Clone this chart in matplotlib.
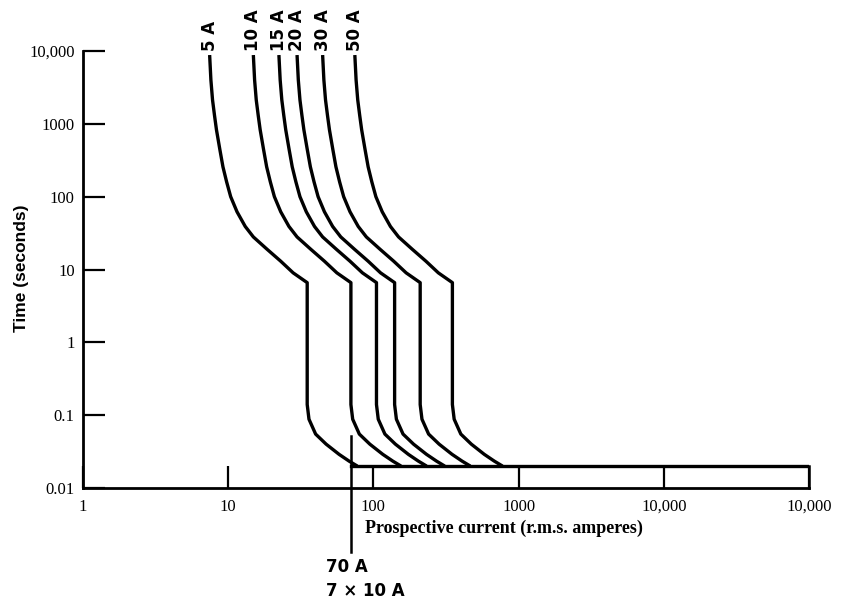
import numpy as np
import matplotlib.pyplot as plt

# fuse ratings (A)
ratings = [5, 10, 15, 20, 30, 50]
labels = ["5 A", "10 A", "15 A", "20 A", "30 A", "50 A"]

# characteristic, as multiples of the rating
t_upper = [8800, 4000, 2130, 1300, 830, 450, 257, 160, 100, 62, 39, 28, 19, 13, 9.0, 6.6]
m_upper = [1.49, 1.52, 1.56, 1.61, 1.66, 1.75, 1.84, 1.95, 2.08, 2.30, 2.62, 2.98, 3.7, 4.6, 5.6, 7.0]
t_lower = [0.14, 0.088, 0.055, 0.040, 0.029, 0.0234, 0.02]
m_lower = [7.0, 7.2, 8.0, 9.45, 11.6, 13.6, 15.5]

min_time = 0.02
min_line_start = 70
x_max = 100000
marker_current = 70

xticks = [1, 10, 100, 1000, 10000, 100000]
xtick_labels = ["1", "10", "100", "1000", "10,000", "10,000"]
yticks = [0.01, 0.1, 1, 10, 100, 1000, 10000]
ytick_labels = ["0.01", "0.1", "1", "10", "100", "1000", "10,000"]

W, H = 843, 601
fig = plt.figure(figsize=(W / 100, H / 100), dpi=100)
ax = fig.add_axes([83 / W, 1 - 488 / H, (809 - 83) / W, (488 - 51) / H])
ax.set_xscale("log")
ax.set_yscale("log")
ax.set_xlim(1, x_max)
ax.set_ylim(0.01, 10000)

lw = 2.4
for r, lab in zip(ratings, labels):
    t = t_upper + t_lower
    m = m_upper + m_lower
    cur = [r * k for k in m]
    ax.plot(cur, t, color="black", lw=lw, solid_capstyle="butt", solid_joinstyle="round")
    ax.text(cur[0], t_upper[0] * 1.12, lab, rotation=90, ha="center", va="bottom",
            fontsize=12, fontweight="bold", family="DejaVu Sans", clip_on=False)

# minimum operating time line and its end
ax.plot([min_line_start, x_max], [min_time, min_time], color="black", lw=lw)
ax.plot([x_max, x_max], [min_time, 0.01], color="black", lw=1.8, clip_on=False)

# 70 A marker
ax.plot([marker_current, marker_current], [0.051, 0.00133], color="black", lw=1.8, clip_on=False)
fig.text(326 / W, 1 - 567 / H, "70 A", ha="left", va="center", fontsize=12,
         fontweight="bold", family="DejaVu Sans")
fig.text(326 / W, 1 - 591 / H, "7 \u00d7 10 A", ha="left", va="center", fontsize=12,
         fontweight="bold", family="DejaVu Sans")

for s in ["top", "right"]:
    ax.spines[s].set_visible(False)
for s in ["left", "bottom"]:
    ax.spines[s].set_linewidth(2)

ax.set_xticks(xticks)
ax.set_xticklabels(xtick_labels)
ax.set_yticks(yticks)
ax.set_yticklabels(ytick_labels)
ax.minorticks_off()
ax.tick_params(axis="both", direction="in", length=16, width=1.6, labelsize=12)
ax.tick_params(axis="x", pad=8)
ax.tick_params(axis="y", pad=6)
for tl in ax.get_xticklabels() + ax.get_yticklabels():
    tl.set_family("Liberation Serif")

fig.text(365 / W, 1 - 528 / H, "Prospective current (r.m.s. amperes)", ha="left", va="center",
         fontsize=13, fontweight="bold", family="Liberation Serif")
fig.text(22 / W, 1 - 268 / H, "Time (seconds)", rotation=90, ha="center", va="center",
         fontsize=12.5, fontweight="bold", family="Liberation Sans")

fig.savefig("out.png", dpi=100)
